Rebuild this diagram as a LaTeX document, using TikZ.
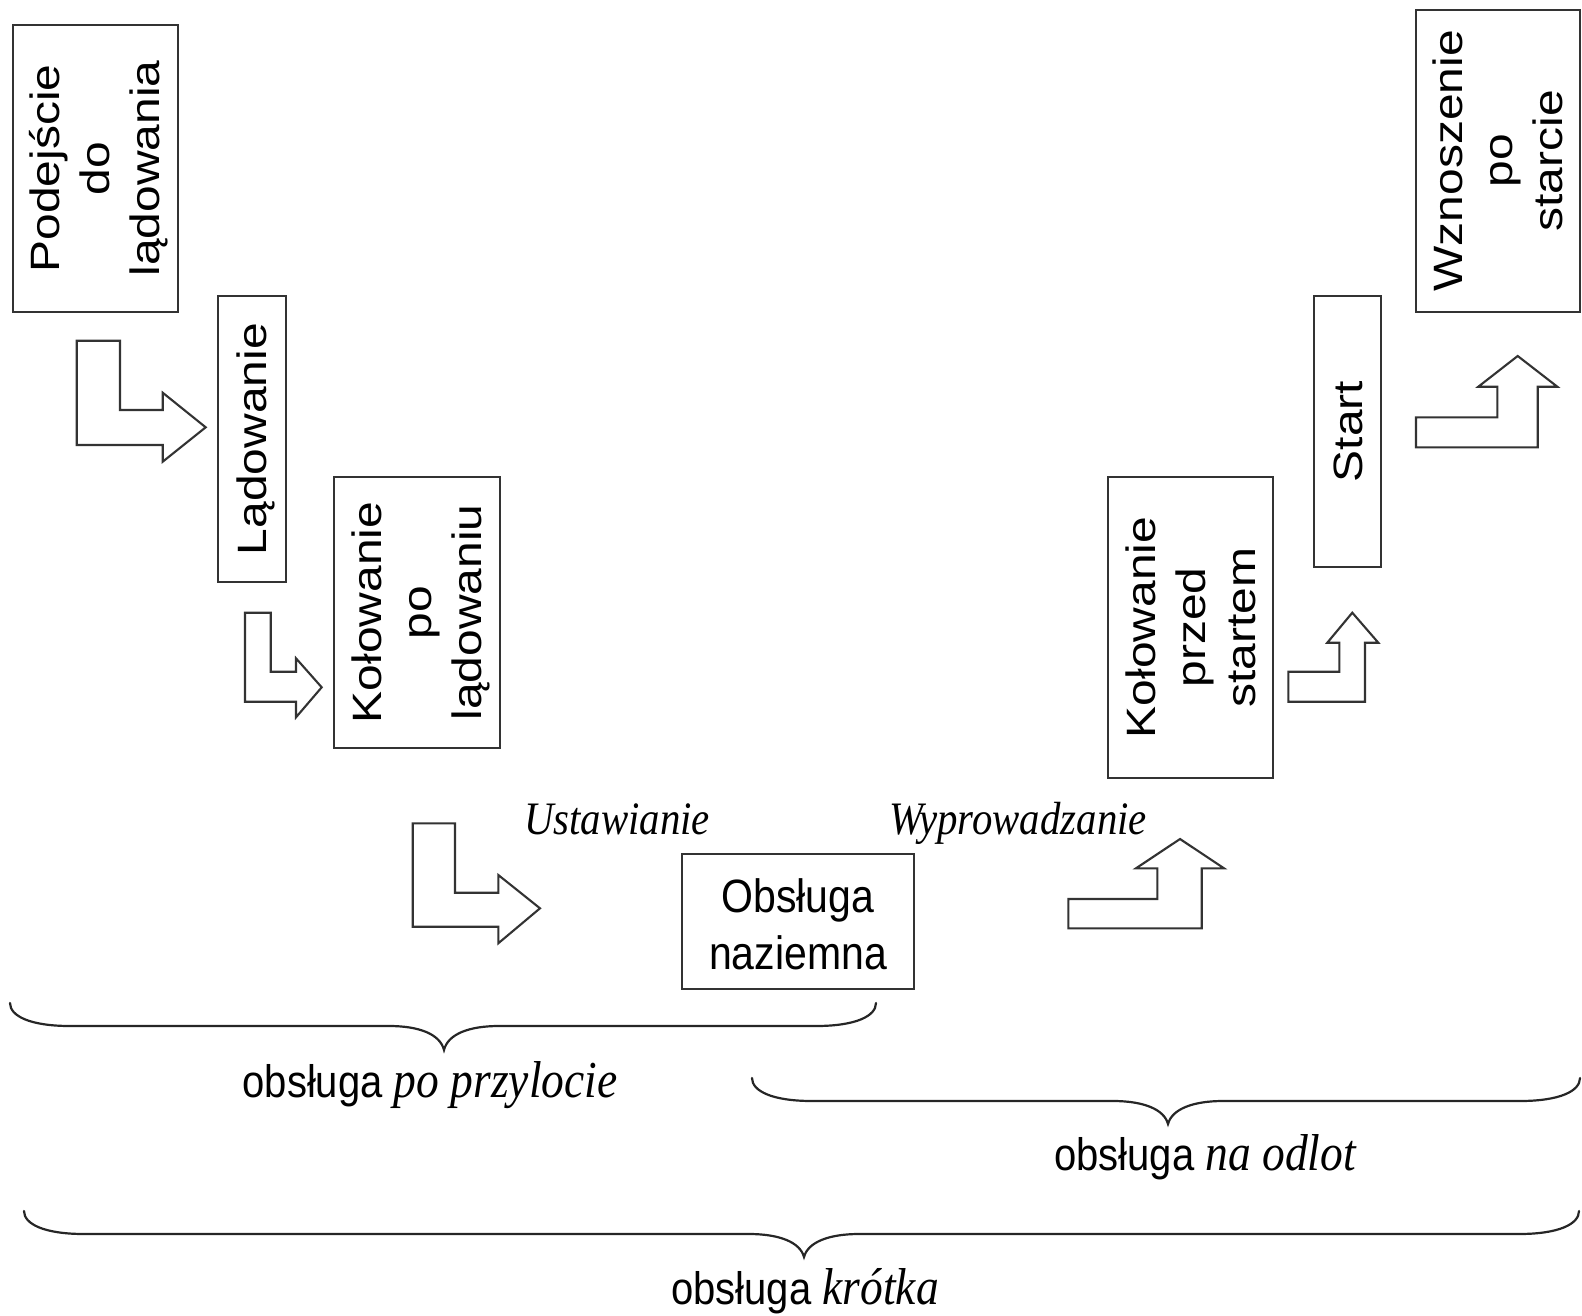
\documentclass[tikz,border=0pt]{standalone}
\usepackage{fontspec}
\setmainfont{Liberation Sans}
\newfontfamily\serifit{Liberation Serif}
\usepackage{graphicx}
\newcommand\vlab[1]{\kern9pt\scalebox{1}[1.17]{\rotatebox{90}{\begin{tabular}{@{}c@{}}#1\end{tabular}}}}
\newcommand\hlab[1]{\raisebox{-8pt}[\height][\depth]{\scalebox{1}[1.14]{\begin{tabular}{@{}c@{}}#1\end{tabular}}}}
\newcommand\drawbrace[6]{%
  \draw[bracestyle] (#1,#3) .. controls (#1,{#4-10}) and ({#1+20},#4) .. ({#1+60},#4)
    -- ({#5-55},#4) .. controls ({#5-25},#4) and ({#5-4},{#4+8}) .. (#5,#6)
    .. controls ({#5+4},{#4+8}) and ({#5+25},#4) .. ({#5+55},#4)
    -- ({#2-60},#4) .. controls ({#2-20},#4) and (#2,{#4-10}) .. (#2,#3);}
\tikzset{
  box/.style={draw=black!80, line width=2.2pt, inner sep=0pt, font=\fontsize{41}{50}\selectfont},
  blockarrow/.style={draw=black!80, line width=2.1pt, line join=miter, fill=white},
  bracestyle/.style={draw=black!85, line width=2.2pt, line cap=round},
  itlab/.style={inner sep=0pt, anchor=base, font=\serifit\itshape\fontsize{40.8}{48}\selectfont},
  bracelab/.style={inner sep=0pt, anchor=base}
}
\begin{document}
\begin{tikzpicture}[x=1pt,y=-1pt]
\useasboundingbox (0,0) rectangle (1582,1316);

% boxes
\node[box, minimum width=165pt, minimum height=287pt] (b1) at (95.2,168.4) {\vlab{Podejście\\do\\lądowania}};
\node[box, minimum width=68pt, minimum height=286pt] (b2) at (252,439) {\vlab{Lądowanie}};
\node[box, minimum width=166pt, minimum height=271pt] (b3) at (417,612.5) {\vlab{Kołowanie\\po\\lądowaniu}};
\node[box, minimum width=232pt, minimum height=135pt] (b4) at (798,921.5) {\hlab{Obsługa\\naziemna}};
\node[box, minimum width=165pt, minimum height=301pt] (b5) at (1190.5,627.5) {\vlab{Kołowanie\\przed\\startem}};
\node[box, minimum width=67pt, minimum height=271pt] (b6) at (1347.5,431.5) {\vlab{Start}};
\node[box, minimum width=164pt, minimum height=302pt] (b7) at (1498,160.8) {\vlab{Wznoszenie\\po\\starcie}};

% block arrows
\draw[blockarrow] (76.7,340.7) -- (120,340.7) -- (120,410) -- (162.7,410) -- (162.7,392.7) -- (205.7,427.3) -- (162.7,461.7) -- (162.7,445) -- (76.7,445) -- cycle;
\draw[blockarrow] (245,612.7) -- (270.7,612.7) -- (270.7,671.7) -- (296,671.7) -- (296,658.3) -- (321.7,687.3) -- (296,717.3) -- (296,701.7) -- (245,701.7) -- cycle;
\draw[blockarrow] (412.7,823.3) -- (455,823.3) -- (455,892.7) -- (498.3,892.7) -- (498.3,875) -- (540,908.3) -- (498.3,943.3) -- (498.3,926.7) -- (412.7,926.7) -- cycle;
\draw[blockarrow] (1068.3,928.3) -- (1068.3,899) -- (1157.3,899) -- (1157.3,868.3) -- (1136,868.3) -- (1180,839) -- (1224,868.3) -- (1201.7,868.3) -- (1201.7,928.3) -- cycle;
\draw[blockarrow] (1288.3,701.7) -- (1288.3,671.7) -- (1339.3,671.7) -- (1339.3,642.7) -- (1327.3,642.7) -- (1352.3,612.7) -- (1378.3,642.7) -- (1365,642.7) -- (1365,701.7) -- cycle;
\draw[blockarrow] (1416,447.3) -- (1416,417.3) -- (1497.3,417.3) -- (1497.3,386.7) -- (1478.3,386.7) -- (1517.7,356) -- (1557.3,386.7) -- (1537.7,386.7) -- (1537.7,447.3) -- cycle;

% italic labels
\node[itlab] (ust) at (617,834) {\scalebox{1}[1.14]{Ustawianie}};
\node[itlab] (wyp) at (1018,834) {\scalebox{1}[1.14]{Wyprowadzanie}};

% braces
\drawbrace{10}{876}{1003}{1026}{444}{1050}
\drawbrace{752}{1580}{1078}{1101}{1168}{1124}
\drawbrace{24}{1579}{1211}{1234}{804}{1257}

% brace labels
\node[bracelab] (l1) at (430,1097) {\scalebox{1}[1.14]{\fontsize{40}{48}\selectfont obsługa {\serifit\itshape\fontsize{45.5}{50}\selectfont po przylocie}}};
\node[bracelab] (l2) at (1205,1170) {\scalebox{1}[1.14]{\fontsize{40}{48}\selectfont obsługa {\serifit\itshape\fontsize{45.5}{50}\selectfont na odlot}}};
\node[bracelab] (l3) at (805,1304) {\scalebox{1}[1.14]{\fontsize{40}{48}\selectfont obsługa {\serifit\itshape\fontsize{45.5}{50}\selectfont krótka}}};
\end{tikzpicture}
\end{document}
